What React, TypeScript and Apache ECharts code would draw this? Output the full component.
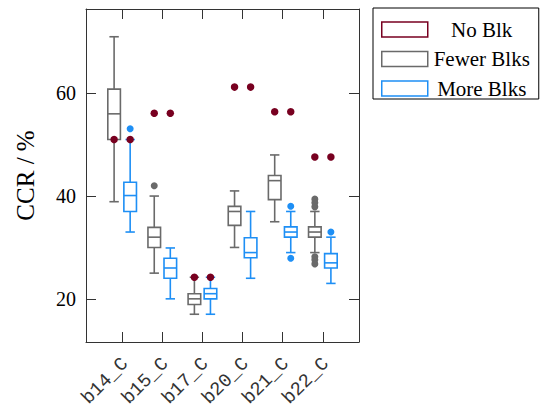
import React, { useEffect, useRef } from 'react';
import * as echarts from 'echarts';

const categories = ['b14_C', 'b15_C', 'b17_C', 'b20_C', 'b21_C', 'b22_C'];
const yTicks = [20, 40, 60];
const yName = 'CCR / %';
// single value per category (No Blk)
const noBlk = [51.0, 56.1, 24.2, 61.2, 56.4, 47.6];
// [min, q1, median, q3, max]
const fewerBlks = [
  [38.9, 51.0, 56.0, 60.8, 71.0],
  [25.0, 30.0, 32.0, 33.9, 40.0],
  [17.0, 18.9, 20.0, 21.0, 24.2],
  [30.0, 34.3, 37.0, 38.0, 41.0],
  [35.0, 39.3, 43.0, 44.0, 48.0],
  [29.0, 32.0, 33.0, 34.0, 37.0],
];
const moreBlks = [
  [33.0, 37.0, 40.1, 42.7, 51.0],
  [20.0, 24.0, 26.0, 27.9, 29.9],
  [17.0, 20.0, 21.0, 22.0, 24.2],
  [24.0, 28.0, 29.0, 31.9, 37.0],
  [29.0, 32.0, 33.0, 34.0, 37.0],
  [23.0, 26.0, 27.0, 28.8, 32.0],
];
// [category index, value]
const fewerOutliers = [
  [1, 42.0],
  [5, 39.4], [5, 38.7], [5, 37.9],
  [5, 28.2], [5, 27.6], [5, 26.8],
];
const moreOutliers = [
  [0, 53.1],
  [4, 38.0], [4, 27.9],
  [5, 33.0],
];

const RED = '#780020';
const GRAY = '#6a6a6a';
const BLUE = '#1e8ff5';
const OFFSET = 0.2;
const AXIS = '#333';
const SERIF = 'Liberation Serif';
const MONO = 'Liberation Mono';

function boxRenderer(offset: number, color: string) {
  return (params: any, api: any) => {
    const x = api.value(0) + offset;
    const pMin = api.coord([x, api.value(1)]);
    const pQ1 = api.coord([x, api.value(2)]);
    const pMed = api.coord([x, api.value(3)]);
    const pQ3 = api.coord([x, api.value(4)]);
    const pMax = api.coord([x, api.value(5)]);
    const cx = pMed[0];
    const hb = 6.3;
    const hc = 4.7;
    const style = { stroke: color, lineWidth: 1.6, fill: null };
    return {
      type: 'group',
      children: [
        { type: 'rect', shape: { x: cx - hb, y: pQ3[1], width: 2 * hb, height: pQ1[1] - pQ3[1] }, style: { stroke: color, lineWidth: 1.6, fill: 'rgba(0,0,0,0)' } },
        { type: 'line', shape: { x1: cx - hb, y1: pMed[1], x2: cx + hb, y2: pMed[1] }, style },
        { type: 'line', shape: { x1: cx, y1: pQ3[1], x2: cx, y2: pMax[1] }, style },
        { type: 'line', shape: { x1: cx, y1: pQ1[1], x2: cx, y2: pMin[1] }, style },
        { type: 'line', shape: { x1: cx - hc, y1: pMax[1], x2: cx + hc, y2: pMax[1] }, style },
        { type: 'line', shape: { x1: cx - hc, y1: pMin[1], x2: cx + hc, y2: pMin[1] }, style },
      ],
    };
  };
}

export default function App() {
  const ref = useRef<HTMLDivElement>(null);
  useEffect(() => {
    if (!ref.current) return;
    const chart = echarts.init(ref.current, null, { renderer: 'svg' });
    const tickVals = categories.map((_, i) => i + 1);
    const labelVals = categories.map((_, i) => i + 1.08);
    const noBlkPts: number[][] = [];
    noBlk.forEach((v, i) => {
      noBlkPts.push([i + 1 - OFFSET, v]);
      noBlkPts.push([i + 1 + OFFSET, v]);
    });
    const option: any = {
      animation: false,
      backgroundColor: '#fff',
      textStyle: { fontFamily: SERIF },
      grid: { left: 86, top: 9, width: 273, height: 333, containLabel: false, outerBoundsMode: 'none' },
      legend: {
        orient: 'vertical',
        left: 373,
        top: 8,
        padding: [11, 8, 0, 8],
        itemWidth: 46,
        itemHeight: 15,
        itemGap: 8.5,
        borderColor: '#000',
        borderWidth: 1,
        borderRadius: 0,
        formatter: (name: string) => `{c|${name}}`,
        textStyle: {
          fontFamily: SERIF,
          fontSize: 21,
          color: '#000',
          rich: { c: { width: 98, align: 'center', fontFamily: SERIF, fontSize: 21, lineHeight: 20, color: '#000' } },
        },
        data: [
          { name: 'No Blk', icon: 'rect', itemStyle: { color: '#fff', borderColor: RED, borderWidth: 1.5 } },
          { name: 'Fewer Blks', icon: 'rect', itemStyle: { color: '#fff', borderColor: GRAY, borderWidth: 1.5 } },
          { name: 'More Blks', icon: 'rect', itemStyle: { color: '#fff', borderColor: BLUE, borderWidth: 1.5 } },
        ],
      },
      xAxis: [
        {
          type: 'value',
          min: 0.1,
          max: 6.9,
          position: 'bottom',
          splitLine: { show: false },
          axisLine: { show: true, lineStyle: { color: AXIS, width: 1 } },
          axisTick: { show: true, inside: true, length: 10, customValues: tickVals, lineStyle: { color: AXIS } },
          axisLabel: {
            customValues: labelVals,
            rotate: 45,
            margin: 19,
            fontFamily: MONO,
            fontSize: 19,
            color: '#333',
            formatter: (v: number) => categories[Math.round(v) - 1] ?? '',
          },
        },
        {
          type: 'value',
          min: 0.1,
          max: 6.9,
          position: 'top',
          splitLine: { show: false },
          axisLine: { show: true, lineStyle: { color: AXIS, width: 1 } },
          axisTick: { show: true, inside: true, length: 10, customValues: tickVals, lineStyle: { color: AXIS } },
          axisLabel: { show: false },
        },
      ],
      yAxis: [
        {
          type: 'value',
          min: 11.6,
          max: 76.4,
          position: 'left',
          name: yName,
          nameLocation: 'middle',
          nameGap: 48,
          nameRotate: 90,
          nameMoveOverlap: false,
          nameTextStyle: { fontFamily: SERIF, fontSize: 25, color: '#000' },
          splitLine: { show: false },
          axisLine: { show: true, lineStyle: { color: AXIS, width: 1 } },
          axisTick: { show: true, inside: true, length: 10, customValues: yTicks, lineStyle: { color: AXIS } },
          axisLabel: {
            customValues: yTicks,
            margin: 10,
            fontFamily: SERIF,
            fontSize: 20,
            color: '#000',
          },
        },
        {
          type: 'value',
          min: 11.6,
          max: 76.4,
          position: 'right',
          splitLine: { show: false },
          axisLine: { show: true, lineStyle: { color: AXIS, width: 1 } },
          axisTick: { show: true, inside: true, length: 10, customValues: yTicks, lineStyle: { color: AXIS } },
          axisLabel: { show: false },
        },
      ],
      series: [
        {
          name: 'Fewer Blks',
          type: 'custom',
          renderItem: boxRenderer(-OFFSET, GRAY),
          encode: { x: 0, y: [1, 2, 3, 4, 5] },
          data: fewerBlks.map((d, i) => [i + 1, ...d]),
          z: 2,
        },
        {
          name: 'More Blks',
          type: 'custom',
          renderItem: boxRenderer(OFFSET, BLUE),
          encode: { x: 0, y: [1, 2, 3, 4, 5] },
          data: moreBlks.map((d, i) => [i + 1, ...d]),
          z: 2,
        },
        {
          name: 'Fewer Blks',
          type: 'scatter',
          symbolSize: 7,
          itemStyle: { color: GRAY, opacity: 1 },
          data: fewerOutliers.map(([c, v]) => [c + 1 - OFFSET, v]),
          z: 3,
        },
        {
          name: 'More Blks',
          type: 'scatter',
          symbolSize: 7,
          itemStyle: { color: BLUE, opacity: 1 },
          data: moreOutliers.map(([c, v]) => [c + 1 + OFFSET, v]),
          z: 3,
        },
        {
          name: 'No Blk',
          type: 'scatter',
          symbolSize: 7.5,
          itemStyle: { color: RED, opacity: 1 },
          data: noBlkPts,
          z: 4,
        },
      ],
    };
    chart.setOption(option);
    return () => chart.dispose();
  }, []);
  return <div ref={ref} style={{ width: 549, height: 410, position: 'absolute', left: 0, top: 0 }} />;
}
